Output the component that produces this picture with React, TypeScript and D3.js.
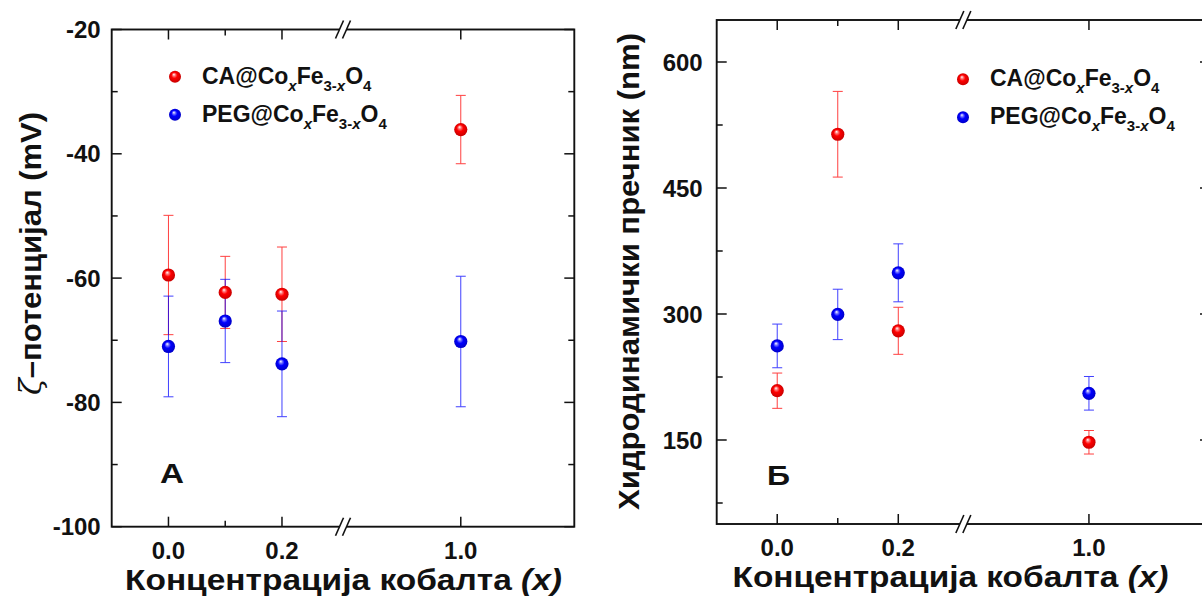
import React from "react";
import * as d3 from "d3";

// ---- data ----
const xValues = [0.0, 0.1, 0.2, 1.0];
const xMajorTicks = [0.0, 0.2, 1.0];
const xMinorTicks = [0.1];
const xTickLabels = ["0.0", "0.2", "1.0"];

const zetaCA = [-59.5, -62.3, -62.6, -36.1];
const zetaCAErr = [9.6, 5.8, 7.6, 5.5];
const zetaPEG = [-71.0, -66.9, -73.8, -70.2];
const zetaPEGErr = [8.1, 6.7, 8.5, 10.5];
const zetaMajorTicks = [-100, -80, -60, -40, -20];
const zetaMinorTicks = [-90, -70, -50, -30];

const dhCA = [208.7, 514, 280, 147.3];
const dhCAErr = [21, 51, 28, 14];
const dhPEG = [262, 299.5, 349, 205.6];
const dhPEGErr = [26, 30, 34.5, 20];
const dhMajorTicks = [150, 300, 450, 600];
const dhMinorTicks = [75, 225, 375, 525];

const FONT = "'Liberation Sans', Arial, sans-serif";
const RED = "#ff0000";
const BLUE = "#0000ff";

type Series = { vals: number[]; errs: number[]; color: string; grad: string };

type PanelProps = {
  x0: number; x1: number; y0: number; y1: number;
  yDomain: [number, number];
  yMajor: number[]; yMinor: number[];
  series: Series[];
  yTitle: React.ReactNode;
  yTitleX: number; yTitleY: number; yTitleLen: number;
  xTitleX: number; xTitleLen: number;
  yLabelGap: number;
  letter: string; letterX: number; letterY: number; letterLen: number;
  legendX: number; legendY: number;
};

function LegendLabel({ prefix, x, y }: { prefix: string; x: number; y: number }) {
  return (
    <text x={x} y={y} fontFamily={FONT} fontWeight="bold" fontSize={23} fill="#111">
      {prefix}Co
      <tspan dy={7} fontSize={15} fontStyle="italic">x</tspan>
      <tspan dy={-7}>Fe</tspan>
      <tspan dy={7} fontSize={15}>3-</tspan>
      <tspan fontSize={15} fontStyle="italic">x</tspan>
      <tspan dy={-7}>O</tspan>
      <tspan dy={7} fontSize={15}>4</tspan>
    </text>
  );
}

function BreakMark({ x, y }: { x: number; y: number }) {
  const g = 3.5;
  const dx = 4;
  const dy = 9;
  return (
    <g>
      <polygon
        points={`${x - g - dx},${y + dy} ${x - g + dx},${y - dy} ${x + g + dx},${y - dy} ${x + g - dx},${y + dy}`}
        fill="#fff"
      />
      <line x1={x - g - dx} y1={y + dy} x2={x - g + dx} y2={y - dy} stroke="#111" strokeWidth={1.6} />
      <line x1={x + g - dx} y1={y + dy} x2={x + g + dx} y2={y - dy} stroke="#111" strokeWidth={1.6} />
    </g>
  );
}

function Panel(p: PanelProps) {
  const xm = (p.x0 + p.x1) / 2;
  const xs = d3.scaleLinear().domain([-0.1, 0.3075, 0.7925, 1.2]).range([p.x0, xm, xm, p.x1]);
  const ys = d3.scaleLinear().domain(p.yDomain).range([p.y1, p.y0]);
  const major = 10;
  const minor = 6;
  const cap = 5;
  return (
    <g>
      {p.series.map((s, si) => (
        <g key={si}>
          {xValues.map((xv, i) => {
            const cx = xs(xv);
            const top = ys(s.vals[i] + s.errs[i]);
            const bot = ys(s.vals[i] - s.errs[i]);
            return (
              <g key={i} stroke={s.color} strokeWidth={1} opacity={0.75}>
                <line x1={cx} x2={cx} y1={top} y2={bot} />
                <line x1={cx - cap} x2={cx + cap} y1={top} y2={top} />
                <line x1={cx - cap} x2={cx + cap} y1={bot} y2={bot} />
              </g>
            );
          })}
        </g>
      ))}
      {p.series.map((s, si) => (
        <g key={"p" + si}>
          {xValues.map((xv, i) => (
            <circle key={i} cx={xs(xv)} cy={ys(s.vals[i])} r={6.6} fill={`url(#${s.grad})`} />
          ))}
        </g>
      ))}
      <rect x={p.x0} y={p.y0} width={p.x1 - p.x0} height={p.y1 - p.y0} fill="none" stroke="#111" strokeWidth={1.9} />
      {xMajorTicks.map((t) => (
        <g key={"xm" + t} stroke="#111" strokeWidth={1.5}>
          <line x1={xs(t)} x2={xs(t)} y1={p.y1} y2={p.y1 - major} />
          <line x1={xs(t)} x2={xs(t)} y1={p.y0} y2={p.y0 + major} />
        </g>
      ))}
      {xMinorTicks.map((t) => (
        <g key={"xn" + t} stroke="#111" strokeWidth={1.5}>
          <line x1={xs(t)} x2={xs(t)} y1={p.y1} y2={p.y1 - minor} />
          <line x1={xs(t)} x2={xs(t)} y1={p.y0} y2={p.y0 + minor} />
        </g>
      ))}
      {xMajorTicks.map((t, i) => (
        <text key={"xl" + t} x={xs(t)} y={p.y1 + 32} textAnchor="middle" fontFamily={FONT} fontWeight="bold" fontSize={24} fill="#111">
          {xTickLabels[i]}
        </text>
      ))}
      {p.yMajor.map((t) => (
        <g key={"ym" + t} stroke="#111" strokeWidth={1.5}>
          <line x1={p.x0} x2={p.x0 + major} y1={ys(t)} y2={ys(t)} />
          <line x1={p.x1} x2={p.x1 - major} y1={ys(t)} y2={ys(t)} />
        </g>
      ))}
      {p.yMinor.map((t) => (
        <g key={"yn" + t} stroke="#111" strokeWidth={1.5}>
          <line x1={p.x0} x2={p.x0 + minor} y1={ys(t)} y2={ys(t)} />
          <line x1={p.x1} x2={p.x1 - minor} y1={ys(t)} y2={ys(t)} />
        </g>
      ))}
      {p.yMajor.map((t) => (
        <text key={"yl" + t} x={p.x0 - p.yLabelGap} y={ys(t)} dy="0.36em" textAnchor="end" fontFamily={FONT} fontWeight="bold" fontSize={24} fill="#111">
          {t}
        </text>
      ))}
      <BreakMark x={xm} y={p.y1} />
      <BreakMark x={xm} y={p.y0} />
      <text x={p.xTitleX} y={p.y1 + 63} textAnchor="middle" fontFamily={FONT} fontWeight="bold" fontSize={29}
        fill="#111" textLength={p.xTitleLen} lengthAdjust="spacingAndGlyphs">
        Концентрација кобалта <tspan fontStyle="italic">(x)</tspan>
      </text>
      <text transform={`translate(${p.yTitleX},${p.yTitleY}) rotate(-90)`} textAnchor="middle" fontFamily={FONT}
        fontWeight="bold" fontSize={30} fill="#111" textLength={p.yTitleLen} lengthAdjust="spacingAndGlyphs">
        {p.yTitle}
      </text>
      <text x={p.letterX} y={p.letterY} fontFamily={FONT} fontWeight="bold" fontSize={27} fill="#111"
        textLength={p.letterLen} lengthAdjust="spacingAndGlyphs">
        {p.letter}
      </text>
      <circle cx={p.legendX} cy={p.legendY} r={6} fill="url(#gradRed)" />
      <circle cx={p.legendX} cy={p.legendY + 38} r={6} fill="url(#gradBlue)" />
      <LegendLabel prefix="CA@" x={p.legendX + 27} y={p.legendY + 7} />
      <LegendLabel prefix="PEG@" x={p.legendX + 27} y={p.legendY + 45} />
    </g>
  );
}

export default function App() {
  const seriesZeta: Series[] = [
    { vals: zetaCA, errs: zetaCAErr, color: RED, grad: "gradRed" },
    { vals: zetaPEG, errs: zetaPEGErr, color: BLUE, grad: "gradBlue" },
  ];
  const seriesDh: Series[] = [
    { vals: dhCA, errs: dhCAErr, color: RED, grad: "gradRed" },
    { vals: dhPEG, errs: dhPEGErr, color: BLUE, grad: "gradBlue" },
  ];
  return (
    <svg width={1202} height={600} style={{ position: "absolute", left: 0, top: 0, background: "#fff" }}>
      <defs>
        <radialGradient id="gradRed" cx="0.5" cy="0.5" r="0.55" fx="0.4" fy="0.3">
          <stop offset="0" stopColor="#ffffff" />
          <stop offset="0.22" stopColor="#ff7070" />
          <stop offset="0.45" stopColor="#ff0000" />
          <stop offset="1" stopColor="#c00000" />
        </radialGradient>
        <radialGradient id="gradBlue" cx="0.5" cy="0.5" r="0.55" fx="0.4" fy="0.3">
          <stop offset="0" stopColor="#ffffff" />
          <stop offset="0.22" stopColor="#7070ff" />
          <stop offset="0.45" stopColor="#0000ff" />
          <stop offset="1" stopColor="#0000c0" />
        </radialGradient>
      </defs>
      <rect x={0} y={0} width={1202} height={600} fill="#fff" />
      <Panel
        x0={111.7} x1={574.3} y0={29.5} y1={526.7}
        yDomain={[-100, -20]} yMajor={zetaMajorTicks} yMinor={zetaMinorTicks}
        series={seriesZeta}
        yTitle={<><tspan fontWeight="normal" fontStyle="italic" fontFamily="'DejaVu Serif', serif">ζ</tspan>–потенцијал (mV)</>}
        yTitleX={41} yTitleY={253.5} yTitleLen={283}
        xTitleX={343.5} xTitleLen={437}
        yLabelGap={11}
        letter="А" letterX={160} letterY={483} letterLen={24}
        legendX={175} legendY={76.7}
      />
      <Panel
        x0={716.7} x1={1210} y0={20} y1={524}
        yDomain={[50, 650]} yMajor={dhMajorTicks} yMinor={dhMinorTicks}
        series={seriesDh}
        yTitle={<>Хидродинамички пречник (nm)</>}
        yTitleX={639} yTitleY={271.5} yTitleLen={477}
        xTitleX={950.5} xTitleLen={436}
        yLabelGap={14}
        letter="Б" letterX={767} letterY={485} letterLen={23}
        legendX={963} legendY={79.3}
      />
    </svg>
  );
}
